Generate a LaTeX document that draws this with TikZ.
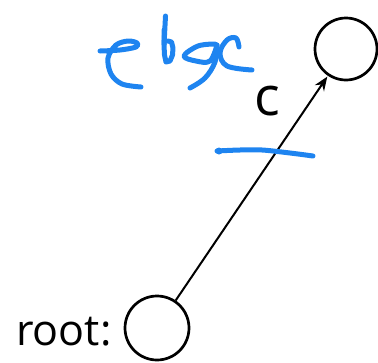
\documentclass[tikz,border=0pt]{standalone}
\usepackage{fontspec}
\setmainfont{Open Sans}
\usetikzlibrary{arrows.meta}
\definecolor{ink}{RGB}{30,132,240}
\begin{document}
\begin{tikzpicture}[x=1pt,y=-1pt,
  vertex/.style={draw,circle,line width=2.7pt,minimum size=62pt,inner sep=0pt},
  pen/.style={ink,line width=5pt,line cap=round,line join=round},
  lbl/.style={font=\fontsize{43}{50}\selectfont,inner sep=0pt}]
\useasboundingbox (0,0) rectangle (378,362);
\node[vertex] (child) at (346,49) {};
\node[vertex,minimum size=64pt] (root) at (157,328) {};
\draw[line width=2pt,shorten >=1pt,-{Stealth[length=14pt,width=11pt]}] (root) -- (child);
\node[lbl,anchor=base west] (rootlbl) at (16,345) {root:};
\node[lbl,font=\fontsize{54}{60}\selectfont,anchor=base] (clbl) at (267,115) {c};
% handwritten "etge"
\draw[pen] plot[smooth,tension=0.55] coordinates {(100,51) (120,50) (136,47) (137,43) (128,41) (116,45) (108,58) (111,74) (122,84) (141,87)};
\fill[ink] (163,16) -- (168,16) -- (166.5,45) -- (161.5,45) -- cycle;
\fill[ink] (165.5,16) circle (2.5pt);
\draw[pen] (164,30) -- (164,45) -- (164.5,55) -- (166,62) -- (170,61) -- (172.5,55) -- (173,48) -- (171.5,42) -- (168,41);
\draw[pen] plot[smooth,tension=0.6] coordinates {(215,44) (198,46) (184,56) (196,61) (210,61) (217,45)};
\draw[pen] plot[smooth,tension=0.6] coordinates {(217,45) (215,62) (205,78) (190,88)};
\draw[pen] plot[smooth,tension=0.6] coordinates {(239,47) (236,38) (227,40) (220,53) (227,66) (252,70)};
% underline
\draw[pen] plot[smooth,tension=0.6] coordinates {(217,151) (240,150) (262,150) (290,153) (313,156)};
\fill[ink] (219,151) circle (3.5pt);
\end{tikzpicture}
\end{document}
